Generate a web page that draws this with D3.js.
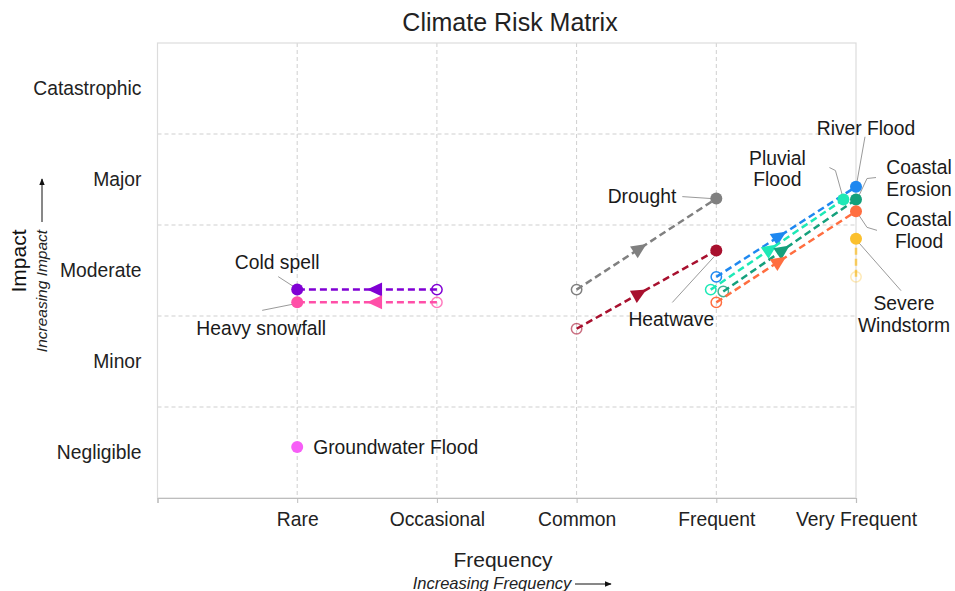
<!DOCTYPE html>
<html>
<head>
<meta charset="utf-8">
<script src="https://cdn.jsdelivr.net/npm/d3@7"></script>
<style>
  html, body { margin: 0; padding: 0; background: #fff; }
  svg { display: block; font-family: "Liberation Sans", Arial, sans-serif; }
</style>
</head>
<body>
<svg id="chart" width="955" height="591"></svg>
<script>
// ---- Data ----
const freqLabels = ["Rare", "Occasional", "Common", "Frequent", "Very Frequent"];
const impactLabels = ["Negligible", "Minor", "Moderate", "Major", "Catastrophic"];

const hazards = ["Cold spell", "Heavy snowfall", "Groundwater Flood", "Drought", "Heatwave",
                 "River Flood", "Pluvial Flood", "Coastal Erosion", "Coastal Flood", "Severe Windstorm"];
// frequency scale: 1 = Rare ... 5 = Very Frequent ; impact scale: band k spans [k, k+1]
const fromFreq   = [2.00, 2.00, null, 3.00, 3.00, 4.00, 3.96, 4.05, 4.00, 5.00];
const fromImpact = [2.29, 2.15, null, 2.29, 1.86, 2.43, 2.29, 2.27, 2.15, 2.43];
const toFreq     = [1.00, 1.00, 1.00, 4.00, 4.00, 5.00, 4.91, 5.00, 5.00, 5.00];
const toImpact   = [2.29, 2.15, 0.56, 3.29, 2.72, 3.42, 3.28, 3.28, 3.15, 2.85];

// ---- Styles / layout ----
const colors = ["#8000d4", "#ff4fa8", "#f75ef7", "#808080", "#a8102e",
                "#1e88f0", "#1de9b6", "#14a07c", "#ff6e40", "#fbc02d"];
const openOpacity = [1, 0.75, 1, 1, 0.6, 1, 1, 0.8, 1, 0.35];
const FS = 19.3;

// label placement (relative to the filled end point), text lines, leader polyline
const labelLayout = [
  {lines: ["Cold spell"], anchor: "middle", dx: -20, dy: [-27], leader: [[-19, -13], [-2, -2]]},
  {lines: ["Heavy snowfall"], anchor: "middle", dx: -36, dy: [26], leader: [[-35, 8], [0, 1]]},
  {lines: ["Groundwater Flood"], anchor: "start", dx: 16, dy: [0], leader: null},
  {lines: ["Drought"], anchor: "end", dx: -40, dy: [-2], leader: [[-34, -2], [-4, 0]]},
  {lines: ["Heatwave"], anchor: "middle", dx: -45, dy: [69], leader: [[-44, 52], [-2, 6]]},
  {lines: ["River Flood"], anchor: "middle", dx: 10, dy: [-59], leader: [[9, -50], [1, -5]]},
  {lines: ["Pluvial", "Flood"], anchor: "middle", dx: -66, dy: [-41, -20], leader: [[-14, -32], [-8, -29], [-1, -4]]},
  {lines: ["Coastal", "Erosion"], anchor: "middle", dx: 63, dy: [-32, -10], leader: [[20, -22], [11, -21], [3, -4]]},
  {lines: ["Coastal", "Flood"], anchor: "middle", dx: 63, dy: [8, 30], leader: [[21, 19], [11, 16], [1, 1]]},
  {lines: ["Severe", "Windstorm"], anchor: "middle", dx: 48, dy: [65, 87], leader: [[45, 52], [1, 2]]}
];

const margin = {left: 157.5, right: 99, top: 43, bottom: 93};
const W = 955, H = 591;
const svg = d3.select("#chart");

const x = d3.scaleLinear().domain([0, 5]).range([margin.left, W - margin.right]);
const y = d3.scaleLinear().domain([0, 5]).range([H - margin.bottom, margin.top]);

// Grid
const grid = svg.append("g");
grid.selectAll("line.v").data([1, 2, 3, 4]).join("line")
  .attr("x1", d => x(d)).attr("x2", d => x(d))
  .attr("y1", y(5)).attr("y2", y(0))
  .attr("stroke", "#cfcfcf").attr("stroke-width", 1).attr("stroke-dasharray", "4,3");
grid.selectAll("line.h").data([1, 2, 3, 4]).join("line")
  .attr("x1", x(0)).attr("x2", x(5))
  .attr("y1", d => y(d)).attr("y2", d => y(d))
  .attr("stroke", "#cfcfcf").attr("stroke-width", 1).attr("stroke-dasharray", "4,3");
// frame
svg.append("rect")
  .attr("x", x(0)).attr("y", y(5))
  .attr("width", x(5) - x(0)).attr("height", y(0) - y(5))
  .attr("fill", "none").attr("stroke", "#dcdcdc").attr("stroke-width", 1.2);

// X axis
const xAxis = svg.append("g")
  .attr("transform", `translate(0,${y(0)})`)
  .call(d3.axisBottom(x).tickValues([0, 1, 2, 3, 4, 5]).tickSize(5).tickFormat(d => d === 0 ? "" : freqLabels[d - 1]));
xAxis.select(".domain").attr("stroke", "#bdbdbd").attr("stroke-width", 1.2);
xAxis.selectAll(".tick line").attr("stroke", "#bdbdbd");
xAxis.selectAll(".tick text")
  .attr("font-size", FS).attr("fill", "#222").attr("font-family", "Liberation Sans, Arial, sans-serif")
  .attr("dy", "1.05em");

// Y axis labels (centered in bands)
svg.append("g").selectAll("text").data(impactLabels).join("text")
  .attr("x", x(0) - 16)
  .attr("y", (d, i) => y(i + 0.5))
  .attr("dy", "0.35em")
  .attr("text-anchor", "end")
  .attr("font-size", FS).attr("fill", "#222")
  .text(d => d);

// Title
svg.append("text").attr("x", 510).attr("y", 31)
  .attr("text-anchor", "middle").attr("font-size", 25).attr("fill", "#222")
  .text("Climate Risk Matrix");

// Axis titles
svg.append("text").attr("x", 503).attr("y", 567)
  .attr("text-anchor", "middle").attr("font-size", 21).attr("fill", "#222").text("Frequency");
svg.append("text").attr("x", 492).attr("y", 589)
  .attr("text-anchor", "middle").attr("font-size", 16.5).attr("font-style", "italic").attr("fill", "#222")
  .text("Increasing Frequency");
svg.append("text").attr("transform", "translate(26,261) rotate(-90)")
  .attr("text-anchor", "middle").attr("font-size", 21).attr("fill", "#111").text("Impact");
svg.append("text").attr("transform", "translate(47,291) rotate(-90)")
  .attr("text-anchor", "middle").attr("font-size", 15.5).attr("font-style", "italic").attr("fill", "#222")
  .text("Increasing Impact");

// axis-title arrows
const defs = svg.append("defs");
defs.append("marker").attr("id", "ah").attr("viewBox", "0 0 10 10")
  .attr("refX", 9).attr("refY", 5).attr("markerWidth", 7).attr("markerHeight", 7)
  .attr("orient", "auto")
  .append("path").attr("d", "M0,1 L10,5 L0,9 Z").attr("fill", "#111");
svg.append("line").attr("x1", 575).attr("x2", 611).attr("y1", 584).attr("y2", 584)
  .attr("stroke", "#111").attr("stroke-width", 1).attr("marker-end", "url(#ah)");
svg.append("line").attr("x1", 42).attr("x2", 42).attr("y1", 222).attr("y2", 179)
  .attr("stroke", "#111").attr("stroke-width", 1).attr("marker-end", "url(#ah)");

// ---- Hazard records ----
const recs = hazards.map((name, i) => ({
  name, i, color: colors[i],
  x0: fromFreq[i] == null ? null : x(fromFreq[i]),
  y0: fromImpact[i] == null ? null : y(fromImpact[i]),
  x1: x(toFreq[i]), y1: y(toImpact[i]),
  lay: labelLayout[i]
}));

// leader lines (behind)
const leaders = svg.append("g");
recs.filter(r => r.lay.leader).forEach(r => {
  leaders.append("polyline")
    .attr("points", r.lay.leader.map(p => [r.x1 + p[0], r.y1 + p[1]].join(",")).join(" "))
    .attr("fill", "none").attr("stroke", "#9a9a9a").attr("stroke-width", 1);
});

// trajectories
const traj = svg.append("g");
recs.filter(r => r.x0 != null).forEach(r => {
  const g = traj.append("g");
  g.append("line")
    .attr("x1", r.x0).attr("y1", r.y0).attr("x2", r.x1).attr("y2", r.y1)
    .attr("stroke", r.color).attr("stroke-width", 2.5)
    .attr("stroke-dasharray", "7,4")
    .attr("opacity", r.i === 9 ? 0.75 : 1);
  g.append("circle").attr("cx", r.x0).attr("cy", r.y0).attr("r", 5.2)
    .attr("fill", "none").attr("stroke", r.color).attr("stroke-width", 1.5)
    .attr("opacity", openOpacity[r.i]);
  const dx = r.x1 - r.x0, dy = r.y1 - r.y0, L = Math.hypot(dx, dy);
  if (L > 60) {
    const mx = r.x0 + dx * 0.5, my = r.y0 + dy * 0.5;
    const ang = Math.atan2(dy, dx) * 180 / Math.PI;
    g.append("path").attr("d", "M0,0 L-15,-7 L-15,7 Z")
      .attr("transform", `translate(${mx},${my}) rotate(${ang})`)
      .attr("fill", r.color);
  }
});

// filled end points
svg.append("g").selectAll("circle").data(recs).join("circle")
  .attr("cx", d => d.x1).attr("cy", d => d.y1).attr("r", 6)
  .attr("fill", d => d.color);

// labels
const labs = svg.append("g");
recs.forEach(r => {
  r.lay.lines.forEach((ln, k) => {
    labs.append("text")
      .attr("x", r.x1 + r.lay.dx).attr("y", r.y1 + r.lay.dy[k])
      .attr("dy", "0.35em").attr("text-anchor", r.lay.anchor)
      .attr("font-size", FS).attr("fill", "#1a1a1a")
      .text(ln);
  });
});
</script>
</body>
</html>
